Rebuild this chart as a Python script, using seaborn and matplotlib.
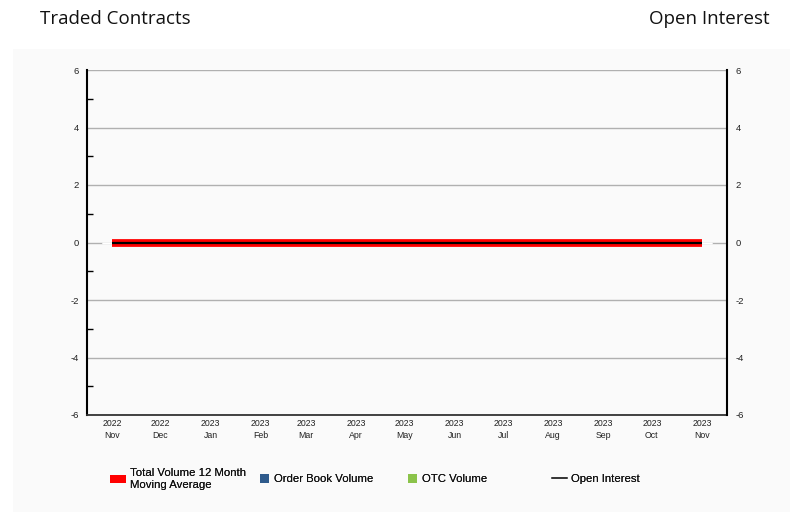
import matplotlib
matplotlib.use("Agg")
import matplotlib.pyplot as plt
from matplotlib.patches import Rectangle
from matplotlib.lines import Line2D
import seaborn as sns
import pandas as pd

# ---- data ----
months = ["2022-11", "2022-12", "2023-01", "2023-02", "2023-03", "2023-04", "2023-05",
          "2023-06", "2023-07", "2023-08", "2023-09", "2023-10", "2023-11"]
tick_labels = ["2022\nNov", "2022\nDec", "2023\nJan", "2023\nFeb", "2023\nMar", "2023\nApr",
               "2023\nMay", "2023\nJun", "2023\nJul", "2023\nAug", "2023\nSep", "2023\nOct",
               "2023\nNov"]
total_volume_ma = [0, 0, 0, 0, 0, 0, 0, 0, 0, 0, 0, 0, 0]
order_book_volume = [0, 0, 0, 0, 0, 0, 0, 0, 0, 0, 0, 0, 0]
otc_volume = [0, 0, 0, 0, 0, 0, 0, 0, 0, 0, 0, 0, 0]
open_interest = [0, 0, 0, 0, 0, 0, 0, 0, 0, 0, 0, 0, 0]

dates = pd.to_datetime(months)
df = pd.DataFrame({"date": dates, "ma": total_volume_ma, "ob": order_book_volume,
                   "otc": otc_volume, "oi": open_interest})

sns.set_theme(style="white")
plt.rcParams["font.family"] = ["Liberation Sans", "DejaVu Sans"]
plt.rcParams["axes.unicode_minus"] = False

fig = plt.figure(figsize=(8.01, 5.26), dpi=100)
fig.patch.set_facecolor("white")
W, H = 801, 526
# light panel background
bg = Rectangle((13 / W, 1 - 512 / H), (790 - 13) / W, (512 - 49) / H,
               transform=fig.transFigure, facecolor="#fafafa", edgecolor="none", zorder=-10)
fig.add_artist(bg)

ax = fig.add_axes([87 / W, 1 - 415 / H, (727 - 87) / W, (415 - 70) / H])
ax.set_zorder(1)
ax.set_facecolor("#fafafa")

RED = "#ff0000"
BLUE = "#2f5b8c"
GREEN = "#8bc34a"

# bars (zero height)
bw = 12
ax.bar(df["date"], df["ob"], width=bw, color=BLUE, zorder=2)
ax.bar(df["date"], df["otc"], bottom=df["ob"], width=bw, color=GREEN, zorder=2)

sns.lineplot(data=df, x="date", y="ma", ax=ax, color=RED, linewidth=5.6,
             solid_capstyle="butt", zorder=3, legend=False)

ax2 = ax.twinx()
ax2.set_zorder(2)
ax2.patch.set_visible(False)
sns.lineplot(data=df, x="date", y="oi", ax=ax2, color="black", linewidth=1.6,
             solid_capstyle="butt", zorder=4, legend=False)

for a in (ax, ax2):
    a.set_ylim(-6, 6)
    a.set_xlabel("")
    a.set_ylabel("")

x0 = dates[0] - pd.Timedelta(days=15.5)
x1 = dates[-1] + pd.Timedelta(days=15.5)
ax.set_xlim(x0, x1)

ax.set_xticks(dates)
ax.set_xticklabels(tick_labels, fontsize=6.3, linespacing=1.35)
ax.tick_params(axis="x", length=0, pad=3, labelcolor="#222222")

ax.set_yticks([-6, -4, -2, 0, 2, 4, 6])
ax.set_yticks([-5, -3, -1, 1, 3, 5], minor=True)
ax.tick_params(axis="y", which="major", length=0, pad=6, labelsize=6.8, labelcolor="#222222")
ax.tick_params(axis="y", which="minor", left=True, direction="in", length=4, width=1,
               color="black")
ax.grid(axis="y", which="major", color="#b0b0b0", linewidth=1)
ax.grid(axis="x", visible=False)

ax2.set_yticks([-6, -4, -2, 0, 2, 4, 6])
ax2.tick_params(axis="y", which="major", length=0, pad=6, labelsize=6.8, labelcolor="#222222")
ax2.grid(False)

for a in (ax, ax2):
    a.spines["top"].set_visible(False)
    a.spines["left"].set_color("black")
    a.spines["left"].set_linewidth(1.5)
    a.spines["right"].set_color("black")
    a.spines["right"].set_linewidth(1.5)
    a.spines["bottom"].set_color("#333333")
    a.spines["bottom"].set_linewidth(1.3)
ax2.spines["left"].set_visible(False)
ax2.spines["bottom"].set_visible(False)
ax.spines["right"].set_visible(False)

# titles
fig.text(40 / W, 1 - 19 / H, "Traded Contracts", ha="left", va="center",
         fontsize=13.5, family=["Open Sans", "DejaVu Sans"], color="#111111")
fig.text(770 / W, 1 - 19 / H, "Open Interest", ha="right", va="center",
         fontsize=13.5, family=["Open Sans", "DejaVu Sans"], color="#111111")

# legend entries, placed individually
entries = [
    (Rectangle((0, 0), 1, 1, facecolor=RED, edgecolor="none"),
     "Total Volume 12 Month\nMoving Average", 110, 1.4, 0.75),
    (Rectangle((0, 0), 1, 1, facecolor=BLUE, edgecolor="none"),
     "Order Book Volume", 260, 0.8, 0.8),
    (Rectangle((0, 0), 1, 1, facecolor=GREEN, edgecolor="none"),
     "OTC Volume", 408, 0.8, 0.8),
    (Line2D([0], [0], color="#333333", linewidth=1.2),
     "Open Interest", 552, 1.3, 0.8),
]
for h, lab, xpx, hl, hh in entries:
    leg = fig.legend([h], [lab], loc="center left", bbox_to_anchor=(xpx / W, 1 - 479 / H),
                     frameon=False, fontsize=8.2, handlelength=hl, handleheight=hh,
                     handletextpad=0.4, borderpad=0, borderaxespad=0)
    for t in leg.get_texts():
        t.set_linespacing(1.15)
        t.set_color("#111111")
    fig.add_artist(leg)

fig.savefig("out.png", dpi=100, facecolor="white")
